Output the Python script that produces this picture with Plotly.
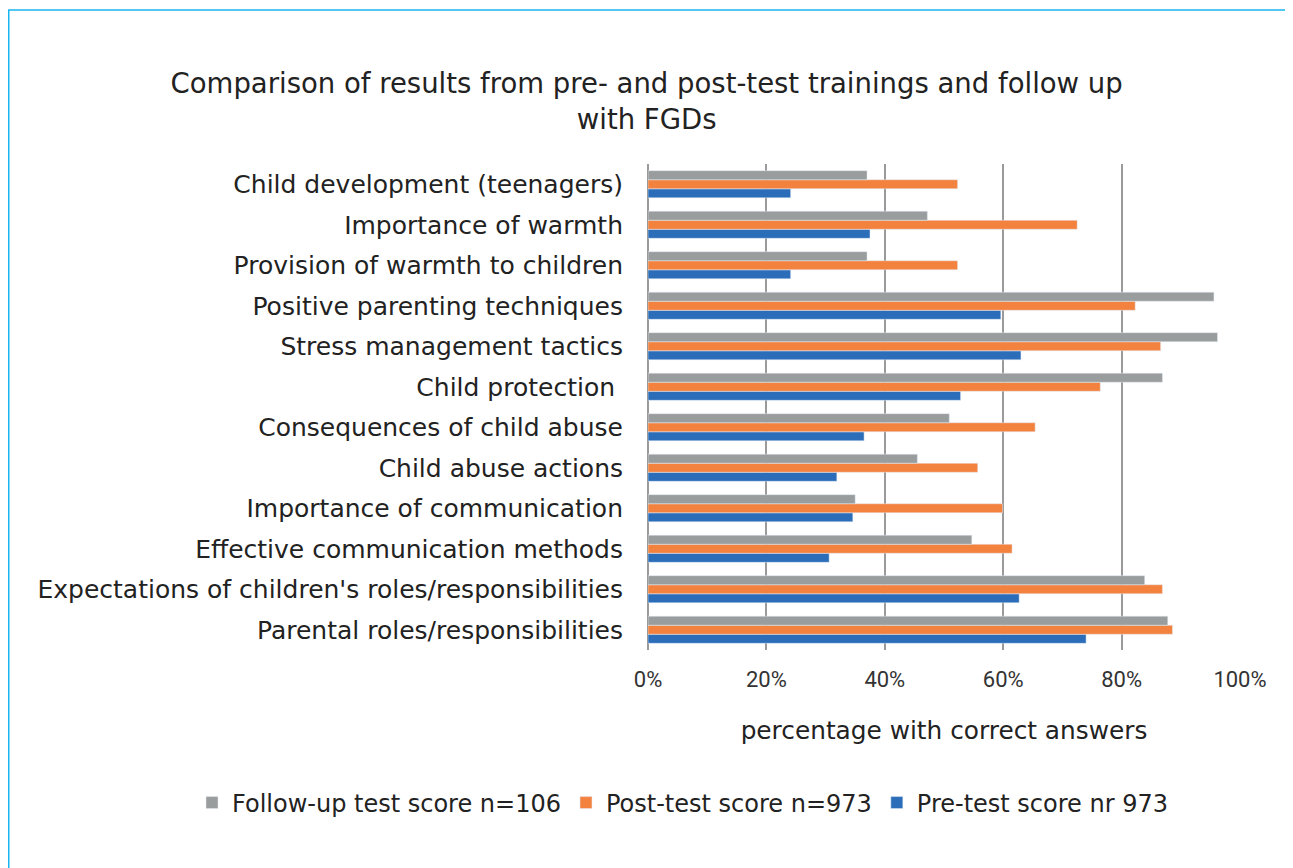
import plotly.graph_objects as go

categories = [
    "Parental roles/responsibilities",
    "Expectations of children's roles/responsibilities",
    "Effective communication methods",
    "Importance of communication",
    "Child abuse actions",
    "Consequences of child abuse",
    "Child protection ",
    "Stress management tactics",
    "Positive parenting techniques",
    "Provision of warmth to children",
    "Importance of warmth",
    "Child development (teenagers)",
]
pre_test = [74.0, 62.7, 30.6, 34.6, 31.9, 36.5, 52.8, 63.0, 59.6, 24.1, 37.5, 24.1]
post_test = [88.6, 86.9, 61.5, 59.9, 55.7, 65.4, 76.4, 86.6, 82.3, 52.3, 72.5, 52.3]
follow_up = [87.8, 83.9, 54.7, 35.0, 45.5, 50.9, 86.9, 96.2, 95.6, 37.0, 47.2, 37.0]
x_ticks = [0, 20, 40, 60, 80, 100]
x_tick_labels = ["0%", "20%", "40%", "60%", "80%", "100%"]

W, H = 1285, 860
L, R, T, B = 640, 53, 156, 218
PW, PH = W - L - R, H - T - B

fig = go.Figure()
fig.add_trace(go.Bar(y=categories, x=pre_test, orientation="h",
                     name="Pre-test score nr 973", marker_color="#2b6db8"))
fig.add_trace(go.Bar(y=categories, x=post_test, orientation="h",
                     name="Post-test score n=973", marker_color="#f4823f"))
fig.add_trace(go.Bar(y=categories, x=follow_up, orientation="h",
                     name="Follow-up test score n=106", marker_color="#9a9d9d"))

fig.update_layout(
    width=W, height=H,
    margin=dict(l=L, r=R, t=T, b=B),
    paper_bgcolor="white", plot_bgcolor="white",
    barmode="group", bargap=0.33, bargroupgap=0,
    title=dict(text="Comparison of results from pre- and post-test trainings and follow up<br>with FGDs",
               x=0.497, xanchor="center", y=0.901, yanchor="middle",
               font=dict(family="DejaVu Sans", size=27.5, color="#222222")),
    font=dict(family="DejaVu Sans", color="#222222"),
    showlegend=True,
    legend=dict(orientation="h", traceorder="reversed",
                xref="paper", x=(184 - L) / PW, xanchor="left",
                yref="paper", y=-(795 - (T + PH)) / PH, yanchor="middle",
                font=dict(family="DejaVu Sans", size=24, color="#222222"),
                itemwidth=30, tracegroupgap=0),
)
fig.update_xaxes(range=[0, 100], tickvals=x_ticks, ticktext=x_tick_labels,
                 showgrid=True, gridcolor="#9a9a9a", gridwidth=1.5,
                 zeroline=True, zerolinecolor="#9a9a9a", zerolinewidth=1.5,
                 showline=False, ticks="", ticklabelstandoff=14,
                 tickfont=dict(family="Roboto", size=22, color="#333333"),
                 title=dict(text="percentage with correct answers",
                            font=dict(family="DejaVu Sans", size=24.8, color="#222222"),
                            standoff=30))
fig.update_yaxes(showgrid=False, ticks="", showline=False, ticklabelstandoff=24,
                 tickfont=dict(family="DejaVu Sans", size=25, color="#222222"))

fig.add_shape(type="rect", xref="paper", yref="paper",
              x0=(0.75 - L) / PW, x1=(1284 - L) / PW,
              y0=-(B + 20) / PH, y1=1 + (T - 2) / PH,
              line=dict(color="#19b5f0", width=1.5), fillcolor="rgba(0,0,0,0)", layer="below")

fig.write_html("out.html")
